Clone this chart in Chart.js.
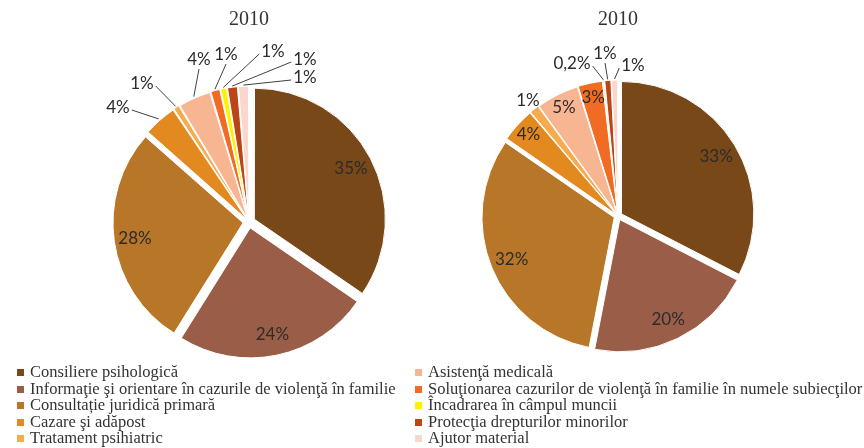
<!DOCTYPE html>
<html>
<head>
<meta charset="utf-8">
<script src="https://cdn.jsdelivr.net/npm/chart.js@4"></script>
<style>
  body { margin: 0; background: #fff; }
  #wrap { position: relative; width: 864px; height: 448px; overflow: hidden; }
  canvas { position: absolute; top: 0; }
  #pieLeft { left: 0; }
  #pieRight { left: 372px; }
  .legend { position: absolute; top: 364px; font: 16.5px "Liberation Serif", serif; color: #333; line-height: 16.6px; z-index: 2; }
  .legend div { white-space: nowrap; }
  .legend span { display: inline-block; width: 7px; height: 7px; margin-right: 6px; vertical-align: 1px; }
</style>
</head>
<body>
<div id="wrap">
  <canvas id="pieLeft" width="498" height="412"></canvas>
  <canvas id="pieRight" width="492" height="400"></canvas>
  <div class="legend" id="legCol1" style="left:17px"></div>
  <div class="legend" id="legCol2" style="left:415px"></div>
</div>
<script>
// categorii (ordinea din legendă = ordinea feliilor, în sensul acelor de ceas)
const categories = [
  'Consiliere psihologică',
  'Informaţie şi orientare în cazurile de violenţă în familie',
  'Consultație juridică primară',
  'Cazare şi adăpost',
  'Tratament psihiatric',
  'Asistenţă medicală',
  'Soluţionarea cazurilor de violenţă în familie în numele subiecţilor',
  'Încadrarea în câmpul muncii',
  'Protecţia drepturilor minorilor',
  'Ajutor material'
];
const colors = ['#784819', '#9a5e48', '#b87628', '#e2891f', '#f7ab4f', '#f8b592', '#f26b23', '#fff200', '#bb4516', '#fbd6cc'];

const titles = ['2010', '2010'];
const valuesLeft = [34.6, 24.3, 27.6, 4.1, 0.8, 4.0, 1.2, 0.8, 1.3, 1.3];
const valuesRight = [32.6, 20.5, 31.6, 4.2, 1.2, 5.2, 3.0, 0.2, 0.8, 0.8];

// explozia feliilor
const offsetsLeft = [24, 24, 24, 12, 12, 12, 12, 12, 12, 12];
const offsetsRight = [16, 16, 16, 8, 8, 8, 8, 8, 8, 8];

// etichete externe: poziția textului față de centrul diagramei (null = în interior)
const outsideLeft = [null, null, null, [-131, -114], [-107, -138], [-50, -162], [-23, -167], [24, -170], [56, -162], [56, -144]];
const outsideRight = [null, null, null, null, [-90, -115], null, null, [-46, -152], [-13, -162], [15, -150]];

function pctText(p) {
  const r = Math.round(p);
  return r >= 1 ? r + '%' : p.toFixed(1).replace('.', ',') + '%';
}

const pieLabels = {
  id: 'pieLabels',
  afterDatasetsDraw(chart, args, opts) {
    const ctx = chart.ctx;
    const meta = chart.getDatasetMeta(0);
    const values = chart.data.datasets[0].data;
    const total = values.reduce((s, v) => s + v, 0);
    const outside = opts.outside || [];
    ctx.save();
    ctx.font = '17px Lato, "Open Sans", sans-serif';
    ctx.fillStyle = '#2b2b2b';
    ctx.strokeStyle = '#404040';
    ctx.lineWidth = 1;
    ctx.textAlign = 'center';
    ctx.textBaseline = 'middle';
    meta.data.forEach((arc, i) => {
      const { x, y, startAngle, endAngle, outerRadius } = arc.getProps(['x', 'y', 'startAngle', 'endAngle', 'outerRadius'], true);
      const mid = (startAngle + endAngle) / 2;
      const shift = (arc.options.offset || 0) / 4;
      const pct = values[i] / total * 100;
      const txt = pctText(pct);
      const pos = outside[i];
      if (!pos) {
        const r = outerRadius * (pct < 10 ? 0.9 : 0.84) + shift;
        ctx.fillText(txt, x + Math.cos(mid) * r, y + Math.sin(mid) * r);
        return;
      }
      const lx = x + pos[0], ly = y + pos[1];
      ctx.fillText(txt, lx, ly);
      const r = outerRadius + shift * 2 + 1;
      const px = x + Math.cos(mid) * r, py = y + Math.sin(mid) * r;
      const w = ctx.measureText(txt).width / 2 + 2;
      let ax, ay;
      if (Math.abs(px - lx) > Math.abs(py - ly)) {
        ax = lx + (px > lx ? w : -w); ay = ly + 2;
      } else {
        ax = lx; ay = ly + 9;
      }
      if (Math.hypot(px - ax, py - ay) > 8) {
        ctx.beginPath();
        ctx.moveTo(ax, ay);
        ctx.lineTo(px, py);
        ctx.stroke();
      }
    });
    ctx.restore();
  }
};

function makePie(id, title, values, offsets, outside, radius) {
  new Chart(document.getElementById(id), {
    type: 'pie',
    data: {
      labels: categories,
      datasets: [{
        data: values,
        backgroundColor: colors,
        borderColor: '#ffffff',
        borderWidth: 1,
        offset: offsets
      }]
    },
    options: {
      responsive: false,
      animation: false,
      devicePixelRatio: 1,
      radius: radius,
      layout: { padding: 0 },
      plugins: {
        legend: { display: false },
        tooltip: { enabled: false },
        title: {
          display: true,
          text: title,
          color: '#333333',
          font: { family: '"Liberation Serif", serif', size: 20, weight: 'normal' },
          padding: { top: 8, bottom: 0 }
        },
        pieLabels: { outside: outside }
      }
    },
    plugins: [pieLabels]
  });
}

makePie('pieLeft', titles[0], valuesLeft, offsetsLeft, outsideLeft, 130);
makePie('pieRight', titles[1], valuesRight, offsetsRight, outsideRight, 132);

// legenda în două coloane
categories.forEach((c, i) => {
  const col = document.getElementById(i < 5 ? 'legCol1' : 'legCol2');
  const row = document.createElement('div');
  const sw = document.createElement('span');
  sw.style.background = colors[i];
  row.appendChild(sw);
  row.appendChild(document.createTextNode(c));
  col.appendChild(row);
});
</script>
</body>
</html>
